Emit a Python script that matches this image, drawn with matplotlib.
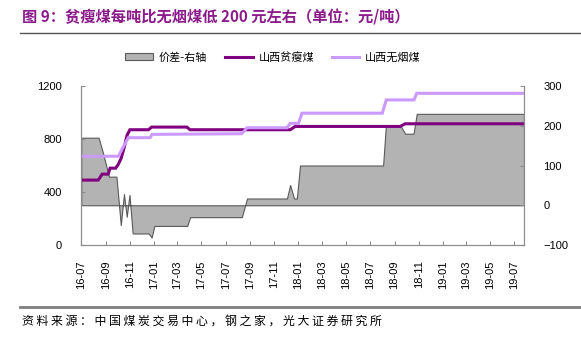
import numpy as np
import pandas as pd
import matplotlib
matplotlib.use("Agg")
import matplotlib.pyplot as plt
from matplotlib.patches import Patch
from matplotlib.lines import Line2D

plt.rcParams['font.family'] = ['Liberation Sans', 'Noto Sans CJK SC', 'DejaVu Sans']

# 山西贫瘦煤 (left axis, 元/吨)
lean_dates = ['2016-07-01', '2016-08-13', '2016-08-23', '2016-09-07', '2016-09-12', '2016-09-26',
              '2016-10-02', '2016-10-10', '2016-10-17', '2016-10-25', '2016-11-01', '2016-12-18',
              '2016-12-26', '2017-03-25', '2017-04-02', '2017-12-11', '2017-12-24', '2018-09-15',
              '2018-09-28', '2019-07-25']
lean_vals = [490, 490, 535, 535, 580, 580,
             605, 655, 730, 830, 870, 870,
             890, 890, 870, 870, 895, 895,
             915, 915]

# 山西无烟煤 (left axis, 元/吨)
anth_dates = ['2016-07-01', '2016-10-03', '2016-10-15', '2016-10-28', '2016-12-22', '2016-12-27',
              '2017-08-11', '2017-08-24', '2017-12-03', '2017-12-11', '2018-01-01', '2018-01-10',
              '2018-08-01', '2018-08-11', '2018-10-20', '2018-10-27', '2019-07-25']
anth_vals = [670, 670, 740, 810, 810, 835,
             840, 885, 885, 918, 918, 995,
             995, 1095, 1095, 1145, 1145]

# 价差 (right axis, 元/吨)
diff_dates = ['2016-07-01', '2016-08-14', '2016-08-24', '2016-09-02', '2016-09-09', '2016-09-28',
              '2016-10-09', '2016-10-17', '2016-10-24', '2016-10-31', '2016-11-08', '2016-12-18',
              '2016-12-26', '2017-01-02', '2017-03-26', '2017-04-02', '2017-08-11', '2017-08-24',
              '2017-12-03', '2017-12-11', '2017-12-21', '2017-12-28', '2018-01-05', '2018-08-03',
              '2018-08-10', '2018-09-16', '2018-09-28', '2018-10-19', '2018-10-27', '2019-07-25']
diff_vals = [170, 170, 135, 100, 72, 72,
             -50, 28, -29, 26, -71, -71,
             -81, -52, -52, -30, -30, 17,
             17, 51, 17, 17, 100, 100,
             200, 200, 180, 180, 230, 230]

lean_x = pd.to_datetime(lean_dates)
anth_x = pd.to_datetime(anth_dates)
diff_x = pd.to_datetime(diff_dates)

title_color = '#8B1A8B'
spine_color = '#8C8C8C'

fig = plt.figure(figsize=(5.81, 3.40), dpi=100)
ax = fig.add_axes([0.1398, 0.2794, 0.762, 0.4676])
ax2 = ax.twinx()

# gray difference area on the right axis, lines on top
ax2.fill_between(diff_x, 0, diff_vals, facecolor='#B3B3B3', edgecolor='#5A5A5A', linewidth=0.8)
ax.set_zorder(ax2.get_zorder() + 1)
ax.patch.set_visible(False)

ax.plot(lean_x, lean_vals, color='#800080', lw=2.2, solid_joinstyle='miter')
ax.plot(anth_x, anth_vals, color='#CC99FF', lw=2.2, solid_joinstyle='miter')

ax.set_ylim(0, 1200)
ax.set_yticks([0, 400, 800, 1200])
ax2.set_ylim(-100, 300)
ax2.set_yticks([-100, 0, 100, 200, 300])
ax.set_xlim(pd.Timestamp('2016-07-01'), pd.Timestamp('2019-07-25'))

ticks = pd.date_range('2016-07-01', '2019-07-01', freq='2MS')
ax.set_xticks(ticks)
ax.set_xticklabels([t.strftime('%y-%m') for t in ticks], rotation=90)

for a in (ax, ax2):
    a.spines['top'].set_visible(False)
    for s in ('left', 'right', 'bottom'):
        a.spines[s].set_color(spine_color)
        a.spines[s].set_linewidth(0.8)
    a.tick_params(direction='in', length=3, color=spine_color, labelsize=8)
ax.tick_params(axis='y', pad=14)
ax.tick_params(axis='x', pad=11)
ax2.tick_params(axis='y', pad=14)

handles = [Patch(facecolor='#B3B3B3', edgecolor='#5A5A5A', linewidth=0.8),
           Line2D([], [], color='#800080', lw=2.2),
           Line2D([], [], color='#CC99FF', lw=2.2)]
fig.legend(handles, ['价差-右轴', '山西贫瘦煤', '山西无烟煤'], loc='center',
           bbox_to_anchor=(0.47, 0.832), ncol=3, frameon=False,
           handlelength=2.5, handleheight=0.6, columnspacing=1.6, handletextpad=0.5,
           prop={'family': ['Noto Sans CJK SC'], 'size': 8})

fig.text(0.038, 0.948, '图 9：贫瘦煤每吨比无烟煤低 200 元左右（单位：元/吨）',
         color=title_color, fontsize=11, fontweight='bold', va='center',
         family=['Noto Sans CJK SC'])
fig.add_artist(Line2D([0.034, 1.0], [0.904, 0.904], color='#555555', lw=1.0))
fig.add_artist(Line2D([0.034, 1.0], [0.097, 0.097], color='#7F7F7F', lw=2.0))
source = '资料来源：中国煤炭交易中心，钢之家，光大证券研究所'
fig.text(0.038, 0.056, ' '.join(source), fontsize=8.6, va='center',
         family=['Noto Sans CJK SC', 'DejaVu Sans'])

fig.savefig('out.png', dpi=100)
